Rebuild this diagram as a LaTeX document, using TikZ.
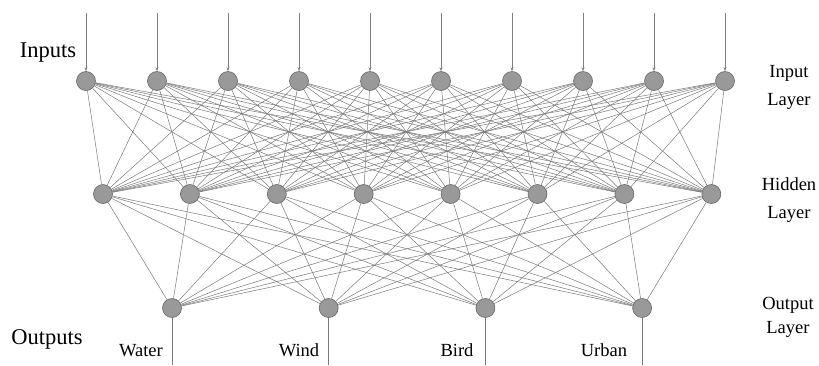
\documentclass[tikz,border=0pt]{standalone}
\usepackage{fontspec}
\setmainfont{Liberation Serif}
\usetikzlibrary{arrows.meta}
\begin{document}
\begin{tikzpicture}[x=1pt,y=-1pt,
  neuron/.style={circle,fill=black!40,draw=black!60,line width=0.6pt,minimum size=19pt,inner sep=0pt},
  conn/.style={draw=black!52,line width=0.5pt},
  inarrow/.style={draw=black!50,line width=0.6pt,-{Stealth[length=4pt,width=3pt]}},
  bigtxt/.style={font=\fontsize{22.5}{26}\selectfont,anchor=base,inner sep=0pt},
  smalltxt/.style={font=\fontsize{18.5}{22}\selectfont,anchor=base,inner sep=0pt}]
\useasboundingbox (0,0) rectangle (819,365);
% nodes
\foreach \i in {1,...,10} {
  \node[neuron] (i\i) at ({86+71*(\i-1)},81) {};
  \coordinate (t\i) at ({86+71*(\i-1)},13);
}
\foreach \j in {1,...,8} {
  \node[neuron] (h\j) at ({103+86.9*(\j-1)},194) {};
}
\foreach \k in {1,...,4} {
  \node[neuron] (o\k) at ({172+156.7*(\k-1)},308) {};
  \coordinate (b\k) at ({172+156.7*(\k-1)},365);
}
% connections
\foreach \i in {1,...,10} {
  \foreach \j in {1,...,8} { \draw[conn] (i\i) -- (h\j); }
  \draw[inarrow] (t\i) -- (i\i);
}
\foreach \j in {1,...,8} {
  \foreach \k in {1,...,4} { \draw[conn] (h\j) -- (o\k); }
}
\foreach \k in {1,...,4} { \draw[conn,line width=0.6pt] (o\k) -- (b\k); }
% labels
\node[bigtxt] (lin) at (48,57) {Inputs};
\node[bigtxt] (lout) at (47,344) {Outputs};
\node[smalltxt] (w1) at (141,356) {Water};
\node[smalltxt] (w2) at (299,356) {Wind};
\node[smalltxt] (w3) at (457,356) {Bird};
\node[smalltxt] (w4) at (604,356) {Urban};
\node[smalltxt] (il1) at (789,77) {Input};
\node[smalltxt] (il2) at (789,105) {Layer};
\node[smalltxt] (hl1) at (789,190) {Hidden};
\node[smalltxt] (hl2) at (789,218) {Layer};
\node[smalltxt] (ol1) at (788,309) {Output};
\node[smalltxt] (ol2) at (788,333) {Layer};
\end{tikzpicture}
\end{document}
